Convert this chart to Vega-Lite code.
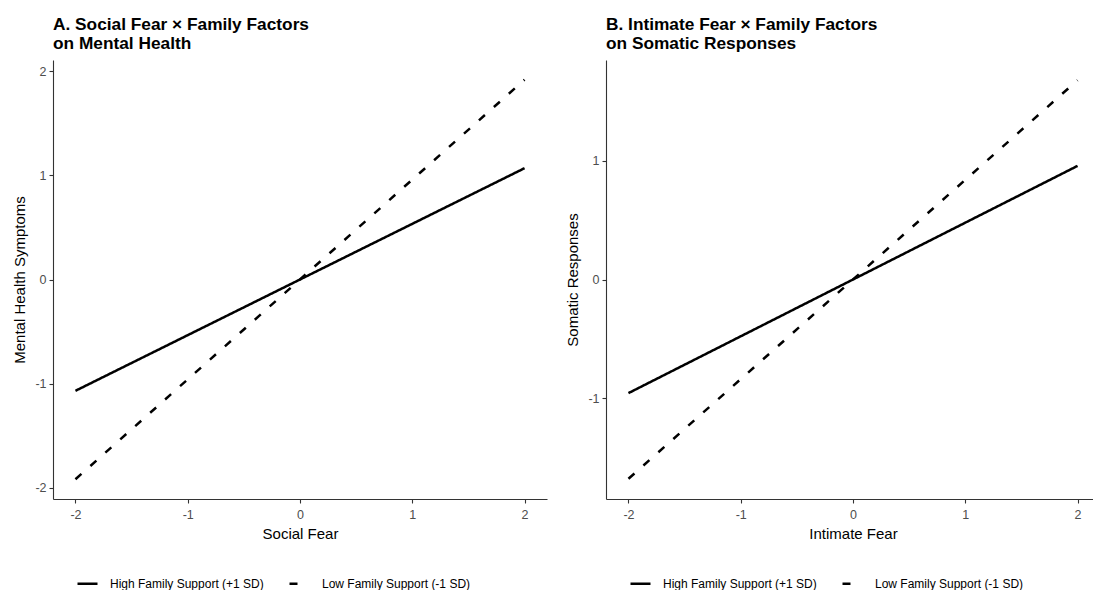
{
  "$schema": "https://vega.github.io/schema/vega-lite/v6.json",
  "padding": {"left": 12, "top": 16, "right": 0, "bottom": 0},
  "background": "white",
  "datasets": {
    "a": [
      {"fear": -2, "value": -1.07, "group": "High Family Support (+1 SD)"},
      {"fear": 0, "value": 0, "group": "High Family Support (+1 SD)"},
      {"fear": 2, "value": 1.07, "group": "High Family Support (+1 SD)"},
      {"fear": -2, "value": -1.92, "group": "Low Family Support (-1 SD)"},
      {"fear": 0, "value": 0, "group": "Low Family Support (-1 SD)"},
      {"fear": 2, "value": 1.92, "group": "Low Family Support (-1 SD)"}
    ],
    "b": [
      {"fear": -2, "value": -0.955, "group": "High Family Support (+1 SD)"},
      {"fear": 0, "value": 0, "group": "High Family Support (+1 SD)"},
      {"fear": 2, "value": 0.955, "group": "High Family Support (+1 SD)"},
      {"fear": -2, "value": -1.675, "group": "Low Family Support (-1 SD)"},
      {"fear": 0, "value": 0, "group": "Low Family Support (-1 SD)"},
      {"fear": 2, "value": 1.675, "group": "Low Family Support (-1 SD)"}
    ]
  },
  "config": {
    "font": "Liberation Sans",
    "view": {"stroke": null},
    "axis": {
      "grid": false,
      "domainColor": "#333333",
      "domainWidth": 1.1,
      "tickColor": "#333333",
      "tickWidth": 1.1,
      "tickSize": 4,
      "labelColor": "#4d4d4d",
      "labelFontSize": 12.5,
      "labelPadding": 3,
      "labelExpr": "toString(datum.value)",
      "titleFontSize": 15,
      "titleFontWeight": "normal",
      "titleColor": "#000000",
      "titlePadding": 5
    },
    "axisX": {"labelPadding": 5, "titlePadding": 6},
    "axisY": {"labelPadding": 3, "titlePadding": 7},
    "legend": {
      "orient": "none",
      "direction": "horizontal",
      "title": null,
      "labelFontSize": 12,
      "labelColor": "#000000",
      "labelOffset": 11,
      "symbolType": "stroke",
      "symbolSize": 400,
      "symbolStrokeWidth": 2.5,
      "symbolStrokeColor": "#000000",
      "columnPadding": 20,
      "padding": 0
    },
    "title": {
      "anchor": "start",
      "frame": "group",
      "fontSize": 17.3,
      "fontWeight": "bold",
      "color": "#000000",
      "lineHeight": 18.5,
      "offset": 8
    }
  },
  "spacing": 18,
  "hconcat": [
    {
      "width": 494,
      "height": 439,
      "title": {"text": ["A. Social Fear × Family Factors", "on Mental Health"]},
      "data": {"name": "a"},
      "mark": {"type": "line", "color": "#000000", "strokeWidth": 2.5},
      "encoding": {
        "x": {"field": "fear", "type": "quantitative", "title": "Social Fear",
              "scale": {"domain": [-2.2, 2.2], "nice": false, "zero": false},
              "axis": {"values": [-2, -1, 0, 1, 2]}},
        "y": {"field": "value", "type": "quantitative", "title": "Mental Health Symptoms",
              "scale": {"domain": [-2.11, 2.11], "nice": false, "zero": false},
              "axis": {"values": [-2, -1, 0, 1, 2]}},
        "strokeDash": {"field": "group", "type": "nominal",
                       "scale": {"domain": ["High Family Support (+1 SD)", "Low Family Support (-1 SD)"], "range": [[1, 0], [8, 12]]},
                       "legend": {"orient": "none", "direction": "horizontal", "legendX": 23, "legendY": 512}}
      }
    },
    {
      "width": 494,
      "height": 439,
      "title": {"text": ["B. Intimate Fear × Family Factors", "on Somatic Responses"]},
      "data": {"name": "b"},
      "mark": {"type": "line", "color": "#000000", "strokeWidth": 2.5},
      "encoding": {
        "x": {"field": "fear", "type": "quantitative", "title": "Intimate Fear",
              "scale": {"domain": [-2.2, 2.2], "nice": false, "zero": false},
              "axis": {"values": [-2, -1, 0, 1, 2]}},
        "y": {"field": "value", "type": "quantitative", "title": "Somatic Responses",
              "scale": {"domain": [-1.845, 1.845], "nice": false, "zero": false},
              "axis": {"values": [-1, 0, 1]}},
        "strokeDash": {"field": "group", "type": "nominal",
                       "scale": {"domain": ["High Family Support (+1 SD)", "Low Family Support (-1 SD)"], "range": [[1, 0], [8, 12]]},
                       "legend": {"orient": "none", "direction": "horizontal", "legendX": 23, "legendY": 512}}
      }
    }
  ],
  "resolve": {"scale": {"strokeDash": "independent", "y": "independent"}, "legend": {"strokeDash": "independent"}}
}
